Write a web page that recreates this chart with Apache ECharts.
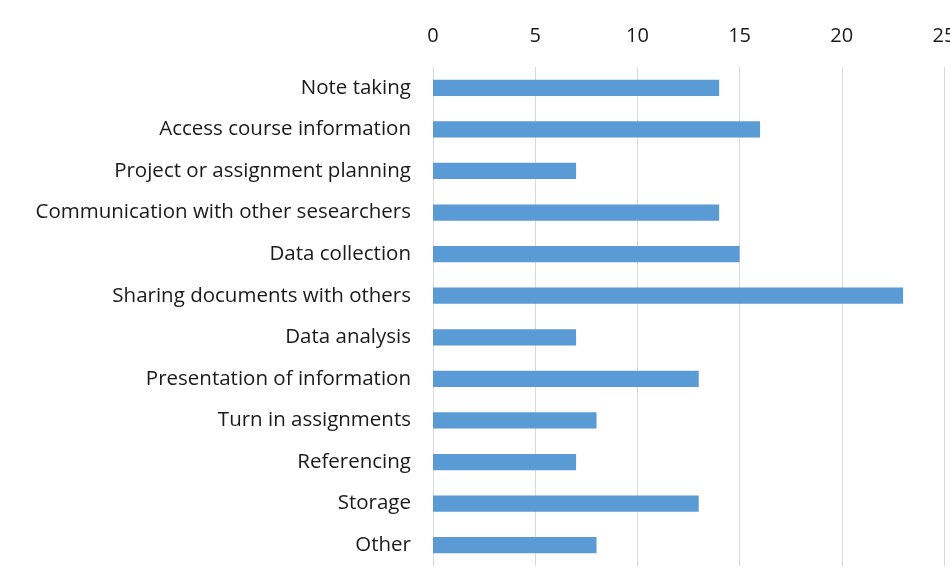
<!DOCTYPE html>
<html>
<head>
<meta charset="utf-8">
<script src="https://cdn.jsdelivr.net/npm/echarts@6/dist/echarts.min.js"></script>
<style>
html,body{margin:0;padding:0;background:#fff;overflow:hidden;}
#chart{width:950px;height:581px;}
</style>
</head>
<body>
<div id="chart"></div>
<script>
var categories = [
  "Note taking",
  "Access course information",
  "Project or assignment planning",
  "Communication with other sesearchers",
  "Data collection",
  "Sharing documents with others",
  "Data analysis",
  "Presentation of information",
  "Turn in assignments",
  "Referencing",
  "Storage",
  "Other"
];
var values = [14, 16, 7, 14, 15, 23, 7, 13, 8, 7, 13, 8];
var xTicks = [0, 5, 10, 15, 20, 25];

var chart = echarts.init(document.getElementById('chart'));
chart.setOption({
  animation: false,
  backgroundColor: '#ffffff',
  grid: {left: 433, width: 511, top: 67, bottom: 15, containLabel: false, outerBoundsMode: 'none'},
  xAxis: {
    type: 'value',
    position: 'top',
    min: xTicks[0],
    max: xTicks[xTicks.length - 1],
    interval: 5,
    axisLine: {show: false},
    axisTick: {show: false},
    axisLabel: {
      fontFamily: 'Open Sans',
      fontSize: 20,
      color: '#1a1a1a',
      margin: 21
    },
    splitLine: {show: true, lineStyle: {color: '#d9d9d9', width: 1}}
  },
  yAxis: {
    type: 'category',
    inverse: true,
    data: categories,
    axisLine: {show: false},
    axisTick: {show: false},
    axisLabel: {
      fontFamily: 'Open Sans',
      fontSize: 20.5,
      color: '#1a1a1a',
      margin: 22
    },
    splitLine: {show: false}
  },
  series: [{
    type: 'bar',
    data: values,
    barCategoryGap: '61%',
    itemStyle: {color: '#5b9bd5'}
  }]
});
</script>
</body>
</html>
